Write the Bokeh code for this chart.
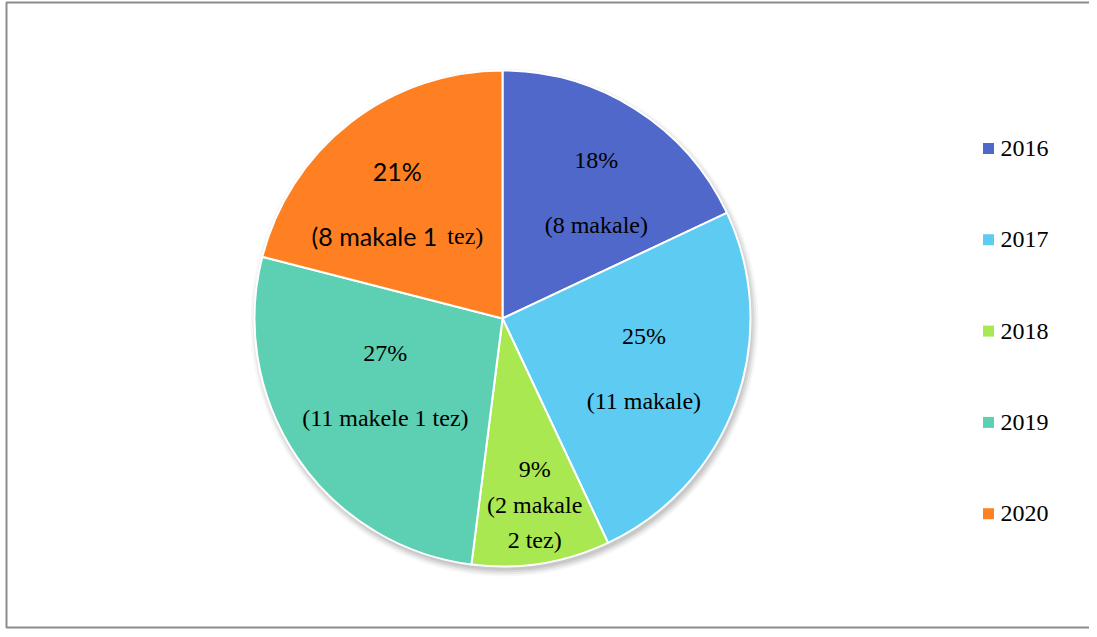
import math
from bokeh.plotting import figure
from bokeh.models import Range1d
from bokeh.core.properties import value
from bokeh.embed import file_html
from bokeh.resources import INLINE

# ---- data ----
years = ["2016", "2017", "2018", "2019", "2020"]
percents = [18, 25, 9, 27, 21]
pct_labels = ["18%", "25%", "9%", "27%", "21%"]
detail_lines = [
    ["(8 makale)"],
    ["(11 makale)"],
    ["(2 makale", "2 tez)"],
    ["(11 makele 1 tez)"],
    ["(8 makale 1 tez)"],
]
colors = ["#4F68C9", "#5DCBF2", "#A9E851", "#5DCFB2", "#FF8022"]

# ---- layout styles ----
W, H = 1089, 629
def Y(page_y):
    return H - page_y

CX, CY, R = 502, Y(318), 248
label_r = [157, 150, 189, 135, 156]
label_dang = [-4.3, 0.3, 0.8, -4.4, 4.6]
SERIF = "Liberation Serif"
SANS = "Lato"
FS = "24px"

p = figure(width=W, height=H, output_backend="svg", toolbar_location=None,
           x_range=Range1d(0, W), y_range=Range1d(0, H),
           min_border=0, outline_line_color=None)
p.axis.visible = False
p.grid.visible = False
p.background_fill_color = "white"

# chart frame
p.line(x=[W + 5, 6, 6, W + 5], y=[Y(2), Y(2), Y(627), Y(627)],
       line_color="#8C8C8C", line_width=2)

# shadow
for k, a in [(6, 0.03), (4, 0.05), (2, 0.07), (0, 0.08)]:
    p.circle(x=[CX + 2], y=[CY - 4], radius=R + k, fill_color="#000000",
             fill_alpha=a, line_color=None)

total = sum(percents)
cum = 0.0
mids = []
for i, v in enumerate(percents):
    start = math.pi / 2 - 2 * math.pi * cum / total
    end = math.pi / 2 - 2 * math.pi * (cum + v) / total
    p.wedge(x=[CX], y=[CY], radius=R, start_angle=start, end_angle=end,
            direction="clock", fill_color=colors[i], line_color="white",
            line_width=2)
    mids.append((start + end) / 2)
    cum += v

# labels
for i in range(len(years)):
    ang = mids[i] + math.radians(label_dang[i])
    ax = CX + label_r[i] * math.cos(ang)
    ay = CY + label_r[i] * math.sin(ang)
    lines = [pct_labels[i]] + detail_lines[i]
    if len(lines) == 2:
        offs = [32.5, -32.5]
    else:
        offs = [36, 0, -35]
    for j, (t, o) in enumerate(zip(lines, offs)):
        if i == 4:
            if j == 0:
                p.text(x=[ax], y=[ay + o], text=[t], text_font=value(SANS),
                       text_font_size="25px", text_align="center",
                       text_baseline="middle", text_color="black")
            else:
                head, tail = t.rsplit(" ", 1)
                p.text(x=[ax + 40], y=[ay + o], text=[head], text_font=value(SANS),
                       text_font_size="25px", text_align="right",
                       text_baseline="middle", text_color="black")
                p.text(x=[ax + 50], y=[ay + o], text=[tail], text_font=value(SERIF),
                       text_font_size=FS, text_align="left",
                       text_baseline="middle", text_color="black")
        else:
            p.text(x=[ax], y=[ay + o], text=[t], text_font=value(SERIF),
                   text_font_size=FS, text_align="center",
                   text_baseline="middle", text_color="black")

# legend
leg_x = [988] * len(years)
leg_y = [Y(148 + i * 91.3) for i in range(len(years))]
p.scatter(x=leg_x, y=leg_y, marker="square", size=11, fill_color=colors,
          line_color=None)
p.text(x=[1000] * len(years), y=leg_y, text=years, text_font=value(SERIF),
       text_font_size=FS, text_align="left", text_baseline="middle",
       text_color="black")

open("out.html", "w").write(file_html(p, INLINE))
